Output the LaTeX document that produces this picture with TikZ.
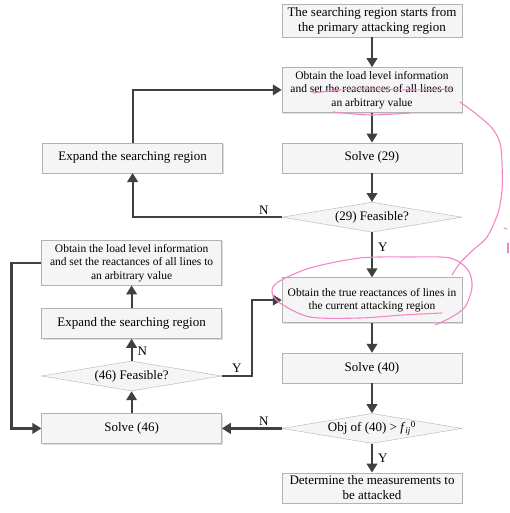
\documentclass[tikz,border=0pt]{standalone}
\usepackage{fontspec}
\setmainfont{Liberation Serif}
\usepackage{tikz}
\usetikzlibrary{arrows.meta,shapes,shadows,positioning}
\definecolor{penpink}{RGB}{242,135,200}

\begin{document}
\begin{tikzpicture}[
        x=1pt, y=-1pt,
        node distance=30pt and 60pt,
        process/.style={draw=gray!60, fill=gray!8, minimum width=180pt, minimum height=30pt,
            inner sep=2pt, align=center, font=\fontsize{13}{15}\selectfont,
            drop shadow={shadow xshift=1pt, shadow yshift=-1.2pt, fill=gray!45, opacity=.6}},
        smalltext/.style={font=\fontsize{11.5}{13.5}\selectfont, minimum height=45pt},
        decision/.style={diamond, aspect=6, draw=gray!60, fill=gray!8, minimum width=180pt,
            minimum height=30pt, inner sep=0pt, font=\fontsize{13}{15}\selectfont},
        flow/.style={draw=black!75, line width=2.2pt, -{Triangle[length=9pt,width=10.5pt]}},
        yn/.style={font=\fontsize{13}{15}\selectfont, inner sep=2pt},
        pen/.style={draw=penpink, line width=1.1pt, line cap=round, line join=round}
    ]
    \useasboundingbox (0,0) rectangle (509,513);

    % Nodes
    \node[process, minimum height=33pt] (start) at (372,20.5) {The searching region starts from\\the primary attacking region};
    \node[process, smalltext, below=of start] (obtain) {Obtain the load level information\\
        and set the reactances of all lines to\\an arbitrary value};
    \node[process, below=of obtain] (solve29) {Solve (29)};
    \node[decision, below=29pt of solve29] (feas29) {(29) Feasible?};
    \node[process, smalltext, below=45pt of feas29] (truer) {Obtain the true reactances of lines in\\
        the current attacking region};
    \node[process, below=of truer] (solve40) {Solve (40)};
    \node[decision, below=of solve40] (objf) {Obj of (40) > \textit{f}\textsubscript{\textit{ij}}\textsuperscript{0}};
    \node[process, below=29pt of objf] (determine) {Determine the measurements to\\be attacked};

    \node[process, left=59pt of solve29] (expand1) {Expand the searching region};
    \node[process, left=of objf] (solve46) {Solve (46)};
    \node[decision, above=22pt of solve46] (feas46) {(46) Feasible?};
    \node[process, above=22pt of feas46] (expand2) {Expand the searching region};
    \node[process, smalltext, above=23pt of expand2] (obtain2) {Obtain the load level information\\
        and set the reactances of all lines to\\an arbitrary value};

    % Edges
    \draw[flow] (start) -- (obtain);
    \draw[flow] (obtain) -- (solve29);
    \draw[flow] (solve29) -- (feas29);
    \draw[flow] (feas29) -- node[yn, right=3pt, pos=.32] {Y} (truer);
    \draw[flow] (feas29.west) -| node[yn, above, pos=.06] {N} (expand1.south);
    \draw[flow] (expand1.north) |- (obtain.west);
    \draw[flow] (truer) -- (solve40);
    \draw[flow] (solve40) -- (objf);
    \draw[flow] (objf) -- node[yn, right=3pt, pos=.5] {Y} (determine);
    \draw[flow] (objf.west) -- node[yn, above, pos=.3] {N} (solve46.east);
    \draw[flow] (solve46) -- (feas46);
    \draw[flow] (feas46) -- node[yn, right=3pt, pos=.45] {N} (expand2);
    \draw[flow] (expand2) -- (obtain2);
    \draw[flow] (feas46.east) -- node[yn, above] {Y} ++(30pt,0) |- (truer.west);
    \draw[flow] (obtain2.west) -- ++(-30pt,0) |- (solve46.west);

    % pen marks on the scan
    \draw[pen] plot[smooth] coordinates {(313,93) (340,90) (370,89) (410,90) (452,89)};
    \draw[pen] plot[smooth] coordinates {(333,112) (370,115) (410,113)};
    \draw[pen] plot[smooth] coordinates {(460,102) (475,113) (492,128) (500,143) (502,163)
        (502,190) (498,213) (487,237) (473,250) (460,263) (452,275)};
    \draw[pen] plot[smooth] coordinates {(442,313) (403,315) (360,318) (310,317) (280,303)
        (272,292) (278,282) (310,268) (360,258) (410,257) (450,258) (468,270) (472,287)
        (465,307) (450,318) (435,325)};
    \draw[pen] (504,228) -- (507,229);
    \draw[pen] (508,243) -- (508,253);
\end{tikzpicture}
\end{document}
